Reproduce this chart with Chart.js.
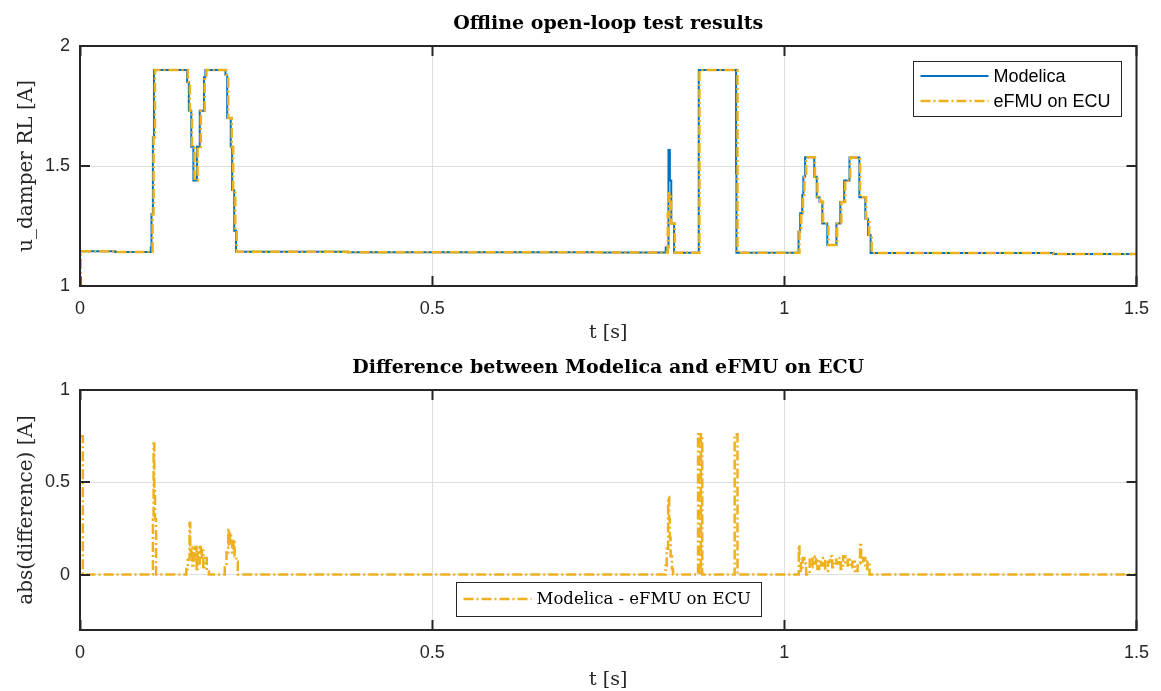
<!DOCTYPE html>
<html>
<head>
<meta charset="utf-8">
<script src="https://cdn.jsdelivr.net/npm/chart.js@4.4.1/dist/chart.umd.min.js"></script>
<style>
  body { margin: 0; background: #fff; }
  canvas { position: absolute; left: 0; }
  #top { top: 0; }
  #bottom { top: 344px; }
</style>
</head>
<body>
<canvas id="top" width="1161" height="345"></canvas>
<canvas id="bottom" width="1161" height="347"></canvas>
<script>
// time axis ticks (s)
const xTicks = [0, 0.5, 1, 1.5];
const yTicksTop = [1, 1.5, 2];
const yTicksBottom = [0, 0.5, 1];

// Modelica: change points (time, new value)
const modelicaT = [0, 0.05, 0.1005, 0.1015, 0.1035, 0.105, 0.152, 0.1545, 0.158, 0.161, 0.166, 0.170, 0.176, 0.178,
  0.2065, 0.209, 0.214, 0.216, 0.219, 0.2215, 0.38, 0.74,
  0.8316, 0.8355, 0.8375, 0.8395, 0.8435, 0.8785, 0.9315, 0.932,
  1.0202, 1.0225, 1.0255, 1.027, 1.0295, 1.0425, 1.046, 1.050, 1.054, 1.061, 1.074, 1.0795, 1.085, 1.0925,
  1.1065, 1.115, 1.119, 1.1225, 1.382, 1.5];
const modelicaU = [1.145, 1.142, 1.16, 1.30, 1.62, 1.90, 1.85, 1.73, 1.58, 1.44, 1.58, 1.73, 1.87, 1.90,
  1.88, 1.70, 1.58, 1.40, 1.23, 1.143, 1.141, 1.140,
  1.16, 1.567, 1.44, 1.26, 1.139, 1.90, 1.47, 1.139,
  1.226, 1.303, 1.379, 1.455, 1.536, 1.455, 1.37, 1.351, 1.26, 1.171, 1.26, 1.35, 1.44, 1.535,
  1.37, 1.28, 1.2125, 1.137, 1.133, 1.133];

// eFMU on ECU: change points (time, new value)
const efmuT = [0, 0.0012, 0.05, 0.103, 0.1045, 0.1065, 0.153, 0.156, 0.159, 0.1625, 0.167, 0.1715, 0.177, 0.1795,
  0.2075, 0.2105, 0.2155, 0.2175, 0.2205, 0.2225, 0.38, 0.74,
  0.8345, 0.8365, 0.8395, 0.8445, 0.8795, 0.9335,
  1.0215, 1.024, 1.0265, 1.0285, 1.031, 1.0435, 1.047, 1.051, 1.055, 1.0625, 1.075, 1.081, 1.0865, 1.0935,
  1.1075, 1.116, 1.1205, 1.124, 1.382, 1.5];
const efmuU = [1.0, 1.145, 1.142, 1.30, 1.62, 1.90, 1.85, 1.73, 1.58, 1.44, 1.58, 1.73, 1.87, 1.90,
  1.88, 1.70, 1.58, 1.40, 1.23, 1.143, 1.141, 1.140,
  1.30, 1.386, 1.26, 1.139, 1.90, 1.139,
  1.226, 1.303, 1.379, 1.455, 1.536, 1.455, 1.37, 1.351, 1.26, 1.171, 1.26, 1.35, 1.44, 1.535,
  1.37, 1.28, 1.2125, 1.137, 1.133, 1.133];

// abs(difference): change points (time, new value)
const diffT = [0, 0.004, 0.1035, 0.1045, 0.1055, 0.1065, 0.108,
  0.151, 0.153, 0.1555, 0.1565, 0.158, 0.1595, 0.161, 0.1625, 0.164, 0.1655, 0.167, 0.1685, 0.170, 0.1715, 0.173, 0.175, 0.177, 0.180, 0.183,
  0.2055, 0.208, 0.2105, 0.2115, 0.213, 0.2145, 0.216, 0.218, 0.2195, 0.222, 0.224,
  0.8315, 0.833, 0.835, 0.8365, 0.8375, 0.8385, 0.8405, 0.842,
  0.8775, 0.8795, 0.8815, 0.8835, 0.9295, 0.9335,
  1.0205, 1.0215, 1.0235, 1.026, 1.0285, 1.031, 1.036, 1.038, 1.040, 1.0425, 1.045, 1.047, 1.0495, 1.052, 1.055, 1.058,
  1.062, 1.065, 1.068, 1.071, 1.074, 1.077, 1.080, 1.0835, 1.0865, 1.090, 1.093, 1.0965, 1.100, 1.104, 1.1075, 1.109,
  1.112, 1.115, 1.118, 1.121, 1.5];
const diffU = [0.75, 0, 0.30, 0.71, 0.46, 0.30, 0,
  0.03, 0.08, 0.28, 0.10, 0.15, 0.05, 0.14, 0.08, 0.15, 0.03, 0.12, 0.06, 0.15, 0.08, 0.13, 0.04, 0.09, 0.02, 0,
  0.05, 0.12, 0.25, 0.16, 0.227, 0.17, 0.12, 0.19, 0.10, 0.07, 0,
  0.05, 0.14, 0.42, 0.30, 0.20, 0.10, 0.03, 0,
  0.76, 0, 0.76, 0, 0.76, 0,
  0.16, 0.08, 0.02, 0.09, 0.06, 0, 0.08, 0.04, 0.10, 0.06, 0.09, 0.03, 0.08, 0.05, 0.09, 0.02,
  0.07, 0.10, 0.04, 0.08, 0.06, 0.09, 0.03, 0.10, 0.05, 0.08, 0.04, 0.07, 0.02, 0.05, 0.16, 0.06,
  0.09, 0.03, 0.07, 0, 0];

const BLUE = '#0072BD';
const ORANGE = '#EDB120';
const INK = '#262626';
const SERIF = '"DejaVu Serif", serif';
const SANS = '"Liberation Sans", Arial, sans-serif';
const DASHDOT = [10, 3, 2, 3];

const pts = (ts, vs) => ts.map((t, i) => ({ x: t, y: vs[i] }));

// matlab-like box with inward ticks
const frame = {
  id: 'frame',
  afterDatasetsDraw(chart) {
    const { ctx, chartArea: a, scales: { x, y } } = chart;
    ctx.save();
    ctx.strokeStyle = INK;
    ctx.lineWidth = 2;
    ctx.strokeRect(a.left, a.top, a.width, a.height);
    ctx.beginPath();
    x.ticks.forEach(t => {
      const px = Math.round(x.getPixelForValue(t.value)) + 0.5;
      ctx.moveTo(px, a.bottom); ctx.lineTo(px, a.bottom - 10);
      ctx.moveTo(px, a.top); ctx.lineTo(px, a.top + 10);
    });
    y.ticks.forEach(t => {
      const py = Math.round(y.getPixelForValue(t.value));
      ctx.moveTo(a.left, py); ctx.lineTo(a.left + 10, py);
      ctx.moveTo(a.right, py); ctx.lineTo(a.right - 10, py);
    });
    ctx.stroke();
    ctx.restore();
  }
};

// legend in a framed box inside the axes
const boxLegend = {
  id: 'boxLegend',
  afterDraw(chart, args, o) {
    const { ctx, chartArea: a } = chart;
    const sets = chart.data.datasets;
    ctx.save();
    ctx.font = o.font;
    const textW = Math.max(...sets.map(d => ctx.measureText(d.label).width));
    const w = Math.round(7.5 + 68 + 5 + textW + 10);
    const h = sets.length * 25 + 2 * o.padV;
    const left = Math.round(o.align === 'center' ? (a.left + a.right - w) / 2 : a.right - o.inset - w);
    const top = Math.round(o.vAlign === 'bottom' ? a.bottom - o.inset - h : a.top + o.inset);
    ctx.fillStyle = '#fff';
    ctx.fillRect(left, top, w, h);
    ctx.strokeStyle = INK;
    ctx.lineWidth = 1;
    ctx.strokeRect(left + 0.5, top + 0.5, w, h);
    sets.forEach((d, i) => {
      const cy = top + o.padV + 12.5 + i * 25;
      ctx.strokeStyle = d.borderColor;
      ctx.lineWidth = d.borderWidth;
      ctx.setLineDash(d.borderDash || []);
      ctx.beginPath();
      ctx.moveTo(left + 7.5, cy);
      ctx.lineTo(left + 75.5, cy);
      ctx.stroke();
      ctx.setLineDash([]);
      ctx.fillStyle = '#000';
      ctx.textBaseline = 'middle';
      ctx.fillText(d.label, left + 80.5, cy + 1);
    });
    ctx.restore();
  }
};

const plainLabel = v => String(v);

function makeChart(id, title, datasets, yMin, yMax, yTicks, yTitle, xTitlePad, legendOpts) {
  return new Chart(document.getElementById(id), {
    type: 'line',
    data: { datasets: datasets },
    plugins: [frame, boxLegend],
    options: {
      responsive: false,
      animation: false,
      layout: { padding: { left: 0, right: 21, top: 0, bottom: 0 } },
      elements: { point: { radius: 0 }, line: { tension: 0 } },
      plugins: {
        legend: { display: false },
        tooltip: { enabled: false },
        title: {
          display: true, text: title, fullSize: false, color: '#000',
          font: { family: SERIF, size: 19, weight: 'bold' },
          padding: { top: 12.6, bottom: 10.6 }
        },
        boxLegend: legendOpts
      },
      scales: {
        x: {
          type: 'linear', min: 0, max: 1.5,
          afterBuildTicks: s => { s.ticks = xTicks.map(v => ({ value: v })); },
          afterFit: s => { s.height = s.chart.height - 286; },
          grid: { color: '#dedede', lineWidth: 1, drawTicks: false },
          border: { display: false },
          ticks: { color: INK, font: { family: SANS, size: 18 }, padding: 12, maxRotation: 0, autoSkip: false, callback: plainLabel },
          title: { display: true, text: 't [s]', color: INK, font: { family: SERIF, size: 19 }, padding: { top: 0, bottom: xTitlePad } }
        },
        y: {
          min: yMin, max: yMax,
          afterBuildTicks: s => { s.ticks = yTicks.map(v => ({ value: v })); },
          afterFit: s => { s.width = 80; },
          grid: { color: '#dedede', lineWidth: 1, drawTicks: false },
          border: { display: false },
          ticks: { color: INK, font: { family: SANS, size: 18 }, padding: 10, callback: plainLabel },
          title: { display: true, text: yTitle, color: INK, font: { family: SERIF, size: 20 }, padding: { top: 15, bottom: 0 } }
        }
      }
    }
  });
}

makeChart('top', 'Offline open-loop test results', [
  { label: 'Modelica', data: pts(modelicaT, modelicaU), borderColor: BLUE, borderWidth: 2, stepped: true, fill: false, order: 2 },
  { label: 'eFMU on ECU', data: pts(efmuT, efmuU), borderColor: ORANGE, borderWidth: 2.5, borderDash: DASHDOT, stepped: true, fill: false, order: 1 }
], 1, 2, yTicksTop, 'u_damper RL [A]', 0.6,
  { font: '18px ' + SANS, align: 'right', vAlign: 'top', inset: 15, padV: 2.5 });

makeChart('bottom', 'Difference between Modelica and eFMU on ECU', [
  { label: 'Modelica - eFMU on ECU', data: pts(diffT, diffU), borderColor: ORANGE, borderWidth: 2.5, borderDash: DASHDOT, stepped: true, fill: false }
], -0.3, 1, yTicksBottom, 'abs(difference) [A]', 0,
  { font: '16.5px ' + SERIF, align: 'center', vAlign: 'bottom', inset: 14, padV: 4.5 });
</script>
</body>
</html>
